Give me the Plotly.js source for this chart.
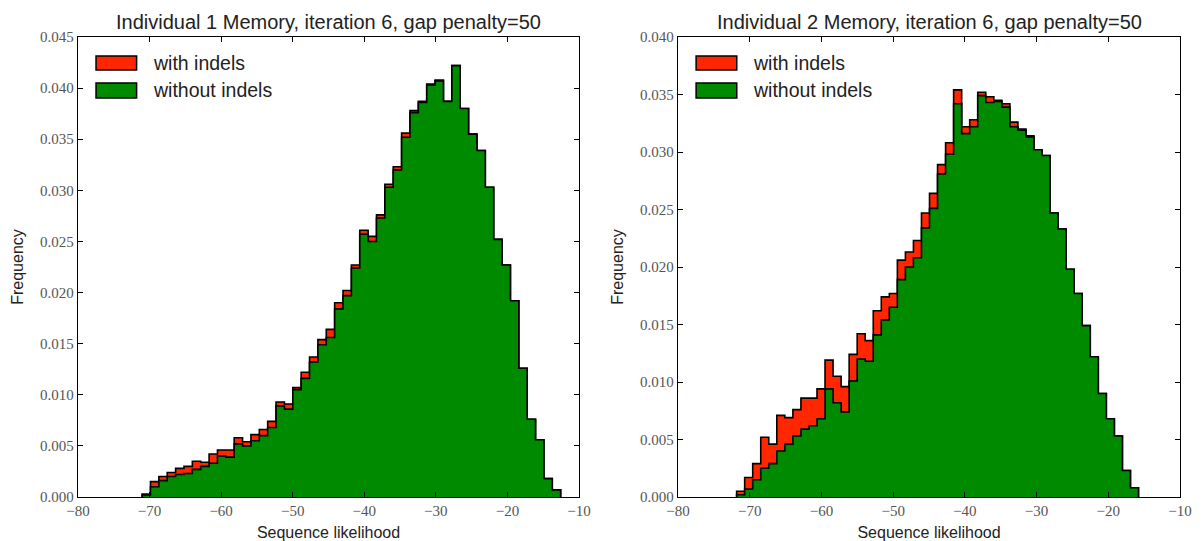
<!DOCTYPE html>
<html>
<head>
<meta charset="utf-8">
<script src="https://cdn.plot.ly/plotly-3.0.1.min.js"></script>
<style>html,body{margin:0;padding:0;background:#fff;}#chart{width:1203px;height:541px;}</style>
</head>
<body>
<div id="chart"></div>
<script>
// ---------- data ----------
const titles = ["Individual 1 Memory, iteration 6, gap penalty=50",
                "Individual 2 Memory, iteration 6, gap penalty=50"];
const seriesNames = ["with indels", "without indels"];
const xTitle = "Sequence likelihood";
const yTitle = "Frequency";

// histogram bin ranges (50 equal bins each)
const leftBinLo = -71.04, leftBinHi = -12.56, leftBinCount = 50;
const rightBinLo = -71.83, rightBinHi = -15.79, rightBinCount = 50;

// Individual 1
const leftWith = [0.0003,0.0015,0.0020,0.0024,0.0028,0.0030,0.0035,0.0034,0.0042,0.0046,
                  0.0046,0.0058,0.0054,0.0061,0.0066,0.0074,0.0093,0.0091,0.0107,0.0122,
                  0.0137,0.0154,0.0164,0.0190,0.0202,0.0227,0.0261,0.0255,0.0276,0.0306,
                  0.0323,0.0356,0.0378,0.0387,0.0404,0.0408,0.0387,0.0422,0.0380,0.0355,
                  0.0339,0.0303,0.0252,0.0227,0.0192,0.0126,0.0076,0.0056,0.0018,0.0007];
const leftWithout = [0.0002,0.0010,0.0016,0.0020,0.0022,0.0023,0.0027,0.0030,0.0033,0.0040,
                     0.0039,0.0052,0.0050,0.0055,0.0060,0.0068,0.0089,0.0086,0.0105,0.0116,
                     0.0132,0.0149,0.0156,0.0184,0.0197,0.0224,0.0257,0.0250,0.0273,0.0303,
                     0.0320,0.0352,0.0376,0.0386,0.0403,0.0407,0.0387,0.0422,0.0380,0.0355,
                     0.0339,0.0303,0.0252,0.0227,0.0192,0.0126,0.0076,0.0056,0.0018,0.0007];
// Individual 2
const rightWith = [0.0005,0.0017,0.0029,0.0052,0.0046,0.0071,0.0069,0.0076,0.0086,0.0086,
                   0.0094,0.0119,0.0105,0.0096,0.0124,0.0142,0.0136,0.0162,0.0174,0.0177,
                   0.0206,0.0213,0.0223,0.0247,0.0264,0.0289,0.0308,0.0354,0.0322,0.0328,
                   0.0352,0.0348,0.0345,0.0342,0.0326,0.0320,0.0314,0.0302,0.0297,0.0247,
                   0.0233,0.0198,0.0177,0.0149,0.0122,0.0090,0.0068,0.0053,0.0023,0.0008];
const rightWithout = [0.0002,0.0007,0.0015,0.0025,0.0029,0.0040,0.0046,0.0053,0.0059,0.0062,
                      0.0068,0.0094,0.0082,0.0074,0.0101,0.0120,0.0118,0.0141,0.0154,0.0165,
                      0.0189,0.0200,0.0208,0.0234,0.0251,0.0281,0.0298,0.0342,0.0316,0.0322,
                      0.0349,0.0343,0.0344,0.0339,0.0322,0.0319,0.0313,0.0302,0.0297,0.0247,
                      0.0233,0.0198,0.0177,0.0149,0.0122,0.0090,0.0068,0.0053,0.0023,0.0008];

const xRange = [-80, -10];
const leftYMax = 0.045, rightYMax = 0.040;

// ---------- helpers ----------
function edges(lo, hi, n) {
  const e = [];
  for (let i = 0; i <= n; i++) e.push(lo + (hi - lo) * i / n);
  return e;
}
function stepXY(ed, h) {
  const x = [ed[0]], y = [0];
  for (let i = 0; i < h.length; i++) { x.push(ed[i]); y.push(h[i]); }
  x.push(ed[ed.length - 1]); y.push(h[h.length - 1]);
  x.push(ed[ed.length - 1]); y.push(0);
  return {x, y};
}

const RED = '#ff2600', GREEN = '#008a00';
function stepTrace(ed, h, color, xa, ya, name) {
  const s = stepXY(ed, h);
  return {
    type: 'scatter', mode: 'lines', x: s.x, y: s.y, name: name,
    line: {shape: 'hv', color: '#000', width: 1.6},
    fill: 'tozeroy', fillcolor: color,
    xaxis: xa, yaxis: ya, showlegend: false, hoverinfo: 'skip'
  };
}

const eL = edges(leftBinLo, leftBinHi, leftBinCount);
const eR = edges(rightBinLo, rightBinHi, rightBinCount);

const data = [
  stepTrace(eL, leftWith, RED, 'x', 'y', seriesNames[0]),
  stepTrace(eL, leftWithout, GREEN, 'x', 'y', seriesNames[1]),
  stepTrace(eR, rightWith, RED, 'x2', 'y2', seriesNames[0]),
  stepTrace(eR, rightWithout, GREEN, 'x2', 'y2', seriesNames[1])
];

const tickFont = {family: 'Liberation Serif, DejaVu Serif, serif', size: 15, color: '#555'};
const labFont = {family: 'Liberation Sans, Arial, sans-serif', size: 16, color: '#222'};

function xax(domain, anchor) {
  return {
    domain: domain, anchor: anchor, range: xRange, dtick: 10, tick0: -80,
    ticks: 'inside', ticklen: 5, tickwidth: 1, tickcolor: '#000',
    showline: true, linecolor: '#000', linewidth: 1.2, mirror: 'ticks',
    showgrid: false, zeroline: false, tickfont: tickFont,
    title: {text: xTitle, font: labFont, standoff: 8}
  };
}
function yax(max, anchor) {
  return {
    domain: [0, 1], anchor: anchor, range: [0, max], dtick: 0.005, tick0: 0,
    tickformat: '.3f',
    ticks: 'inside', ticklen: 5, tickwidth: 1, tickcolor: '#000',
    showline: true, linecolor: '#000', linewidth: 1.2, mirror: 'ticks',
    showgrid: false, zeroline: false, tickfont: tickFont,
    title: {text: yTitle, font: labFont, standoff: 12}
  };
}

// legend swatches + subplot titles
const shapes = [], annotations = [];
[['x', 'y'], ['x2', 'y2']].forEach(([xa, ya], k) => {
  const xr = xa + ' domain', yr = ya + ' domain';
  const sw = [[0.9587, 0.9283, RED], [0.900, 0.8674, GREEN]];
  sw.forEach(([y0, y1, c], j) => {
    shapes.push({type: 'rect', xref: xr, yref: yr, x0: 0.036, x1: 0.117, y0: y1, y1: y0,
                 fillcolor: c, line: {color: '#000', width: 1.5}, layer: 'above'});
    annotations.push({xref: xr, yref: yr, x: 0.145, y: (y0 + y1) / 2, xanchor: 'left', yanchor: 'middle',
                      text: seriesNames[j], showarrow: false,
                      font: {family: 'Liberation Sans, Arial, sans-serif', size: 19.5, color: '#222'}});
  });
  annotations.push({xref: xr, yref: 'paper', x: 0.5, y: 1, xanchor: 'center', yanchor: 'bottom',
                    yshift: 2, text: titles[k], showarrow: false,
                    font: {family: 'Liberation Sans, Arial, sans-serif', size: 20, color: '#222'}});
});

const layout = {
  width: 1203, height: 541,
  margin: {l: 78, r: 23, t: 37, b: 44},
  paper_bgcolor: '#fff', plot_bgcolor: '#fff',
  showlegend: false,
  xaxis: xax([0, 0.4546], 'y'),
  yaxis: yax(leftYMax, 'x'),
  xaxis2: xax([0.5445, 1], 'y2'),
  yaxis2: yax(rightYMax, 'x2'),
  shapes: shapes, annotations: annotations
};

Plotly.newPlot('chart', data, layout, {staticPlot: true, displayModeBar: false});
</script>
</body>
</html>
